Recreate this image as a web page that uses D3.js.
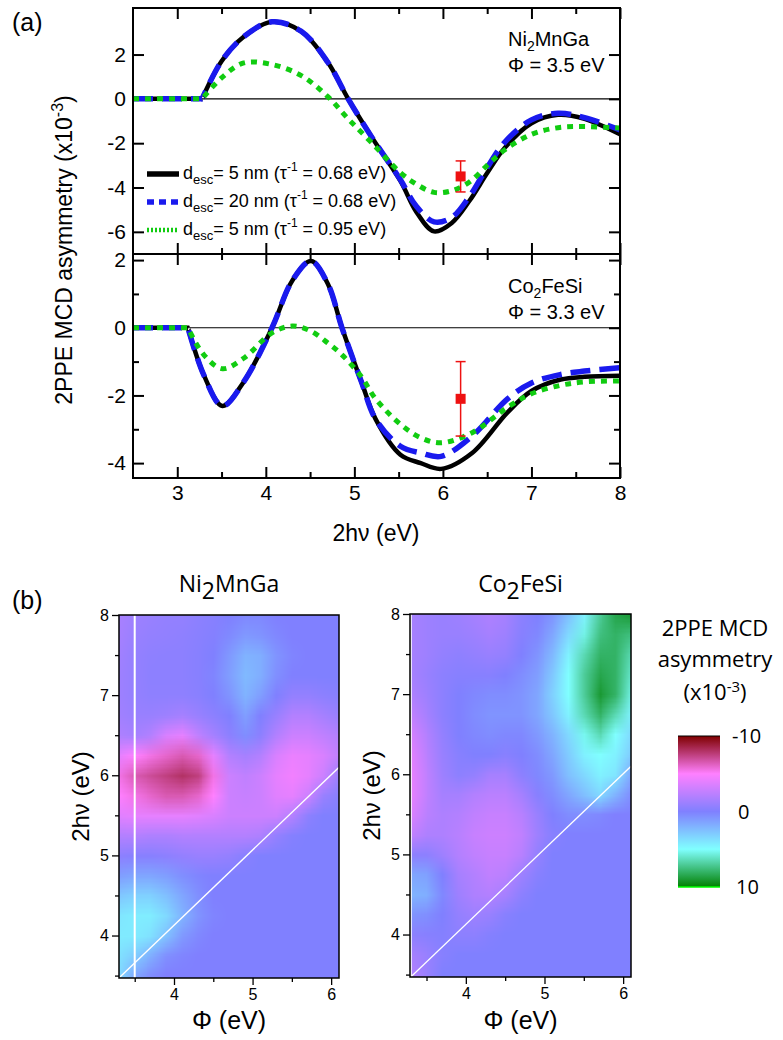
<!DOCTYPE html>
<meta charset="utf-8">
<style>
  body { margin: 0; background: #fff; }
  svg text { font-family: "Liberation Sans", Arial, Helvetica, sans-serif; fill: #000; }
  .ob { font-family: "Open Sans", sans-serif !important; }
</style>
<script src="https://d3js.org/d3.v7.min.js"></script>
<div id="chart"></div>
<script>

// ---- panel (a) data: 2PPE MCD asymmetry (x10^-3) vs 2hv (eV) ----
const hvNi = [2.5, 3.0, 3.28, 3.5, 3.75, 4.07, 4.4, 4.7, 4.93, 5.2, 5.52, 5.7, 5.9, 6.1, 6.3, 6.5, 6.7, 7.0, 7.3, 7.6, 8.0];
const niSolid  = [0, 0, 0, 1.7, 2.8, 3.48, 3.05, 1.65, 0, -1.75, -3.7, -5.1, -5.98, -5.6, -4.6, -3.35, -2.2, -1.1, -0.72, -0.9, -1.6];
const niDashed = [0, 0, 0, 1.7, 2.8, 3.48, 3.05, 1.65, 0, -1.75, -3.65, -4.85, -5.55, -5.35, -4.4, -3.1, -1.95, -0.95, -0.65, -0.85, -1.4];
const niDotted = [0, 0, 0, 0.95, 1.62, 1.55, 1.05, 0.1, -0.9, -2.0, -3.33, -3.85, -4.22, -4.15, -3.75, -3.0, -2.3, -1.6, -1.3, -1.25, -1.32];

const hvCfs = [2.5, 3.0, 3.12, 3.3, 3.51, 3.75, 4.07, 4.3, 4.51, 4.7, 4.86, 5.08, 5.24, 5.52, 5.75, 5.98, 6.33, 6.73, 7.0, 7.33, 7.6, 8.0];
const cfsSolid  = [0, 0, 0, -1.4, -2.31, -1.6, 0, 1.4, 1.97, 1.3, 0, -1.6, -2.7, -3.75, -4.0, -4.17, -3.7, -2.5, -1.87, -1.53, -1.45, -1.42];
const cfsDashed = [0, 0, 0, -1.4, -2.31, -1.6, 0, 1.4, 1.97, 1.3, 0, -1.6, -2.7, -3.5, -3.7, -3.8, -3.2, -2.1, -1.63, -1.38, -1.28, -1.18];
const cfsDotted = [0, 0, 0, -0.8, -1.21, -0.9, -0.15, 0.05, -0.1, -0.45, -0.8, -1.45, -2.1, -2.85, -3.25, -3.4, -3.1, -2.35, -1.95, -1.7, -1.6, -1.57];

const expHv = [6.2];
const niExp = [-3.5],  niExpErr = [0.7];
const cfsExp = [-2.1], cfsExpErr = [1.1];

// ---- panel (b) data: maps on a (phi, 2hv) grid ----
const phiGrid = [3.3, 3.5, 3.7, 3.9, 4.1, 4.3, 4.5, 4.7, 4.9, 5.1, 5.3, 5.5, 5.7, 5.9, 6.1];
const hvGrid = [8.0, 7.75, 7.5, 7.25, 7.0, 6.75, 6.5, 6.25, 6.0, 5.75, 5.5, 5.25, 5.0, 4.75, 4.5, 4.25, 4.0, 3.75, 3.5];

const niMap = [
  [-1.6,-1.2,-1.0,-0.8,-0.8,-0.5,-0.3, 0.0, 0.3, 0.3, 0.0, 0.0, 0.0, 0.0, 0.0],
  [-1.5,-1.0,-0.8,-0.7,-0.6,-0.4,-0.2, 0.4, 1.0, 0.8, 0.3, 0.0, 0.0, 0.0, 0.0],
  [-1.3,-0.8,-0.6,-0.5,-0.5,-0.3, 0.0, 1.0, 2.0, 1.8, 0.8, 0.2, 0.0, 0.0, 0.0],
  [-1.2,-0.8,-0.5,-0.5,-0.5,-0.3, 0.2, 1.2, 2.3, 1.8, 0.6, 0.0, 0.0, 0.0, 0.0],
  [-1.2,-0.8,-0.6,-0.6,-0.6,-0.4, 0.0, 0.8, 2.0, 1.2, 0.0,-0.8,-0.8,-0.5,-0.3],
  [-1.3,-1.0,-1.0,-1.2,-1.5,-1.0,-0.5, 0.0, 1.2, 0.0,-1.0,-2.0,-2.0,-1.5,-1.0],
  [-1.8,-1.5,-2.0,-3.5,-4.0,-2.5,-1.5,-0.5, 0.5,-0.5,-2.0,-3.0,-3.0,-2.5,-2.0],
  [-4.0,-5.0,-5.5,-6.0,-6.5,-6.0,-4.0,-2.0,-1.5,-2.0,-3.5,-4.2,-4.0,-3.5,-2.5],
  [-5.5,-6.5,-7.0,-7.5,-8.0,-7.5,-5.5,-3.0,-2.5,-3.0,-4.0,-4.5,-4.0,-3.0,-1.0],
  [-5.0,-5.5,-6.0,-6.5,-6.5,-6.0,-5.0,-3.0,-2.8,-3.0,-3.8,-4.0,-3.0,-1.0,-0.3],
  [-3.8,-4.0,-4.0,-4.0,-4.0,-3.8,-3.5,-3.0,-3.0,-3.0,-3.0,-2.0,-0.5, 0.0, 0.0],
  [-2.0,-2.0,-1.8,-1.8,-2.0,-2.0,-2.0,-2.0,-2.0,-1.8,-0.8,-0.2, 0.0, 0.0, 0.0],
  [-0.5,-0.3,-0.3,-0.5,-0.8,-1.0,-1.0,-0.8,-0.3, 0.0, 0.0, 0.0, 0.0, 0.0, 0.0],
  [ 1.2, 1.5, 1.5, 1.2, 0.6, 0.2, 0.0, 0.0, 0.0, 0.0, 0.0, 0.0, 0.0, 0.0, 0.0],
  [ 2.8, 3.2, 3.2, 2.5, 1.5, 0.6, 0.0, 0.0, 0.0, 0.0, 0.0, 0.0, 0.0, 0.0, 0.0],
  [ 4.0, 4.3, 4.3, 3.5, 2.0, 0.8, 0.2, 0.0, 0.0, 0.0, 0.0, 0.0, 0.0, 0.0, 0.0],
  [ 4.2, 4.2, 3.8, 2.5, 1.0, 0.3, 0.0, 0.0, 0.0, 0.0, 0.0, 0.0, 0.0, 0.0, 0.0],
  [ 3.8, 3.0, 1.8, 0.6, 0.2, 0.0, 0.0, 0.0, 0.0, 0.0, 0.0, 0.0, 0.0, 0.0, 0.0],
  [ 3.5, 1.5, 0.5, 0.0, 0.0, 0.0, 0.0, 0.0, 0.0, 0.0, 0.0, 0.0, 0.0, 0.0, 0.0]
];

const cfsMap = [
  [-1.5,-1.2,-1.0,-1.2,-1.5,-1.8,-1.5,-0.5, 0.0, 0.8, 2.5, 4.5, 7.0, 8.5, 9.0],
  [-1.5,-1.2,-1.0,-1.0,-1.2,-1.5,-1.2,-0.3, 0.3, 1.5, 3.5, 5.5, 7.5, 8.0, 7.5],
  [-1.5,-1.2,-0.8,-0.6,-0.8,-1.0,-0.8, 0.0, 0.8, 2.2, 4.5, 6.5, 8.0, 8.0, 6.5],
  [-1.5,-1.0,-0.5,-0.3,-0.3,-0.3, 0.0, 0.5, 1.2, 2.8, 5.0, 7.0, 8.5, 8.0, 6.0],
  [-1.8,-1.2,-0.5, 0.0, 0.3, 0.5, 0.5, 0.8, 1.5, 3.2, 5.0, 7.0, 9.0, 8.0, 5.5],
  [-2.5,-1.5,-0.5, 0.0, 0.5, 0.8, 0.8, 0.8, 1.5, 2.8, 4.5, 6.5, 8.0, 6.5, 4.5],
  [-3.3,-2.0,-0.8, 0.0, 0.3, 0.5, 0.3, 0.3, 1.0, 2.0, 3.5, 5.3, 6.5, 5.0, 3.5],
  [-3.8,-2.3,-1.0,-0.3, 0.0, 0.0,-0.3, 0.0, 0.5, 1.5, 3.0, 4.5, 5.0, 4.5, 3.0],
  [-4.0,-2.5,-1.2,-0.5,-0.8,-1.5,-1.5,-0.5, 0.3, 1.0, 2.5, 3.5, 4.5, 4.0, 1.5],
  [-4.0,-2.5,-1.5,-1.5,-2.0,-2.3,-2.3,-1.5,-0.3, 0.5, 1.5, 2.5, 3.5, 2.0, 0.5],
  [-3.5,-2.3,-1.8,-2.0,-2.5,-2.8,-2.8,-2.2,-1.0, 0.0, 0.5, 0.5, 0.3, 0.0, 0.0],
  [-2.5,-1.8,-1.8,-2.2,-2.8,-3.0,-3.0,-2.5,-1.2,-0.3, 0.0, 0.0, 0.0, 0.0, 0.0],
  [-0.5,-0.5,-1.2,-2.0,-2.5,-2.8,-2.8,-2.2,-0.8, 0.0, 0.0, 0.0, 0.0, 0.0, 0.0],
  [ 1.5, 1.3, 0.0,-1.5,-2.0,-2.5,-2.3,-1.2,-0.3, 0.0, 0.0, 0.0, 0.0, 0.0, 0.0],
  [ 2.0, 1.8, 0.3,-1.2,-1.8,-2.0,-1.5,-0.5, 0.0, 0.0, 0.0, 0.0, 0.0, 0.0, 0.0],
  [ 0.8, 0.6, 0.0,-0.8,-1.2,-1.0,-0.3, 0.0, 0.0, 0.0, 0.0, 0.0, 0.0, 0.0, 0.0],
  [-0.5,-0.3,-0.2,-0.5,-0.5,-0.2, 0.0, 0.0, 0.0, 0.0, 0.0, 0.0, 0.0, 0.0, 0.0],
  [-1.5,-1.0,-0.3, 0.0, 0.0, 0.0, 0.0, 0.0, 0.0, 0.0, 0.0, 0.0, 0.0, 0.0, 0.0],
  [-2.0,-1.0, 0.0, 0.0, 0.0, 0.0, 0.0, 0.0, 0.0, 0.0, 0.0, 0.0, 0.0, 0.0, 0.0]
];

const colorStops = [-10, -5, 0, 5, 10];
const colorList = ["#800000", "#ff80ff", "#8080ff", "#80ffff", "#008000"];
const barLabels = [-10, 0, 10];
const diagPhi = [3.3, 6.1], diagHv = [3.47, 6.1];

// ---------------------------------------------------------------
const svg = d3.select("#chart").append("svg").attr("width", 783).attr("height", 1040);

const mcdColor = d3.scaleLinear().domain(colorStops).range(colorList).clamp(true);

// panel (a) scales
const xA = d3.scaleLinear().domain([2.5, 8]).range([133, 620]);
const yNi = d3.scaleLinear().domain([-7, 4.1]).range([254, 8]);
const yCfs = d3.scaleLinear().domain([-4.44, 2.18]).range([478, 254]);

function inward(g, axis, scale, major, minor, labels) {
  g.call(axis(scale).tickValues(major).tickSize(-11).tickPadding(7)
      .tickFormat(labels ? (d => String(d)) : ""));
  g.select(".domain").remove();
  if (minor.length) {
    const m = g.append("g").call(axis(scale).tickValues(minor).tickSize(-6).tickFormat(""));
    m.select(".domain").remove();
  }
  g.selectAll("line").attr("stroke", "#000").attr("stroke-width", 2);
  g.selectAll("text").attr("font-size", 21);
}

// flat part straight, then a smooth curve from the threshold on
function curvePath(hv, vals, yS) {
  const pts = hv.map((h, i) => [xA(h), yS(vals[i])]);
  const k = vals.findIndex(v => v !== 0) - 1;
  const flat = d3.line().curve(d3.curveLinear)(pts.slice(0, k + 1));
  const rest = d3.line().curve(d3.curveCatmullRom.alpha(0.5))(pts.slice(k));
  return flat + rest.replace(/^M[^A-Z]*/, "L" + pts[k].join(","));
}

function panelA(yS, top, bottom, hv, solid, dashed, dotted, ex, exErr, yMajor, yMinor, id, lastPanel) {
  const g = svg.append("g");
  const xMaj = [3, 4, 5, 6, 7, 8], xMin = [3.5, 4.5, 5.5, 6.5, 7.5];
  inward(g.append("g").attr("transform", `translate(0,${top})`), d3.axisTop, xA, xMaj, xMin, false);
  inward(g.append("g").attr("transform", `translate(0,${bottom})`), d3.axisBottom, xA, xMaj, xMin, lastPanel);
  inward(g.append("g").attr("transform", "translate(133,0)"), d3.axisLeft, yS, yMajor, yMinor, true);
  inward(g.append("g").attr("transform", "translate(620,0)"), d3.axisRight, yS, yMajor, yMinor, false);

  g.append("clipPath").attr("id", id).append("rect")
    .attr("x", 133).attr("y", top).attr("width", 487).attr("height", bottom - top);
  const plot = g.append("g").attr("clip-path", `url(#${id})`);

  plot.append("line").attr("x1", 133).attr("x2", 620).attr("y1", yS(0)).attr("y2", yS(0))
    .attr("stroke", "#000").attr("stroke-width", 1.2);

  plot.append("path").attr("d", curvePath(hv, solid, yS)).attr("fill", "none").attr("stroke", "#000").attr("stroke-width", 4.5);
  plot.append("path").attr("d", curvePath(hv, dashed, yS)).attr("fill", "none").attr("stroke", "#1a1aee")
    .attr("stroke-width", 5.5).attr("stroke-dasharray", "20,9");
  plot.append("path").attr("d", curvePath(hv, dotted, yS)).attr("fill", "none").attr("stroke", "#11cc11")
    .attr("stroke-width", 5).attr("stroke-dasharray", "6,6");

  ex.forEach((v, i) => {
    const cx = xA(expHv[i]);
    plot.append("line").attr("x1", cx).attr("x2", cx).attr("y1", yS(v - exErr[i])).attr("y2", yS(v + exErr[i]))
      .attr("stroke", "#ee1111").attr("stroke-width", 1.5);
    [v - exErr[i], v + exErr[i]].forEach(e => plot.append("line").attr("x1", cx - 5).attr("x2", cx + 5)
      .attr("y1", yS(e)).attr("y2", yS(e)).attr("stroke", "#ee1111").attr("stroke-width", 1.5));
    plot.append("rect").attr("x", cx - 5).attr("y", yS(v) - 5).attr("width", 10).attr("height", 10).attr("fill", "#ee1111");
  });

  g.append("rect").attr("x", 133).attr("y", top).attr("width", 487).attr("height", bottom - top)
    .attr("fill", "none").attr("stroke", "#000").attr("stroke-width", 2);
  return g;
}

panelA(yNi, 8, 254, hvNi, niSolid, niDashed, niDotted, niExp, niExpErr, [-6, -4, -2, 0, 2], [], "clipNi", false);
panelA(yCfs, 254, 478, hvCfs, cfsSolid, cfsDashed, cfsDotted, cfsExp, cfsExpErr, [-4, -2, 0, 2], [-3, -1, 1], "clipCfs", true);

// sample labels
function sampleLabel(x, y, base, sub, rest) {
  const t = svg.append("text").attr("x", x).attr("y", y).attr("font-size", 20);
  t.append("tspan").text(base);
  t.append("tspan").attr("font-size", 14).attr("dy", 5).text(sub);
  t.append("tspan").attr("dy", -5).text(rest);
}
sampleLabel(508, 46, "Ni", "2", "MnGa");
svg.append("text").attr("x", 508).attr("y", 72).attr("font-size", 20).text("\u03A6 = 3.5 eV");
sampleLabel(508, 293, "Co", "2", "FeSi");
svg.append("text").attr("x", 508).attr("y", 319).attr("font-size", 20).text("\u03A6 = 3.3 eV");

// legend
const legendRows = [
  { y: 174, color: "#000", dash: null, width: 5.5, d: "5", tau: "0.68" },
  { y: 202, color: "#1a1aee", dash: "7,5", width: 5.5, d: "20", tau: "0.68" },
  { y: 230, color: "#11cc11", dash: "2,2", width: 4.5, d: "5", tau: "0.95" }
];
legendRows.forEach(r => {
  svg.append("line").attr("x1", 147).attr("x2", 179).attr("y1", r.y).attr("y2", r.y)
    .attr("stroke", r.color).attr("stroke-width", r.width).attr("stroke-dasharray", r.dash);
  const t = svg.append("text").attr("x", 183).attr("y", r.y + 5).attr("font-size", 18);
  t.append("tspan").text("d");
  t.append("tspan").attr("font-size", 13).attr("dy", 5).text("esc");
  t.append("tspan").attr("dy", -5).text(`= ${r.d} nm (\u03C4`);
  t.append("tspan").attr("font-size", 12).attr("dy", -8).text("-1");
  t.append("tspan").attr("dy", 8).text(` = ${r.tau} eV)`);
});

// axis titles panel (a)
svg.append("text").attr("x", 12).attr("y", 31).attr("font-size", 25).text("(a)");
const yt = svg.append("text").attr("transform", "translate(72,250) rotate(-90)")
  .attr("text-anchor", "middle").attr("font-size", 23);
yt.append("tspan").text("2PPE MCD asymmetry (x10");
yt.append("tspan").attr("font-size", 16).attr("dy", -9).text("-3");
yt.append("tspan").attr("dy", 9).text(")");
svg.append("text").attr("x", 376).attr("y", 541).attr("text-anchor", "middle").attr("font-size", 23).text("2h\u03BD (eV)");

// ---- panel (b) ----
svg.append("text").attr("x", 12).attr("y", 609).attr("font-size", 25).text("(b)");

function heatmap(values, left, right, top, bottom, phiMin, id, title, titleSub, titleRest, vline) {
  const x = d3.scaleLinear().domain([phiMin, 6.1]).range([left, right]);
  const y = d3.scaleLinear().domain([3.47, 8]).range([bottom, top]);
  const g = svg.append("g");

  const cols = phiGrid.length, rows = hvGrid.length;
  const cv = document.createElement("canvas");
  cv.width = cols; cv.height = rows;
  const ctx = cv.getContext("2d");
  const img = ctx.createImageData(cols, rows);
  values.forEach((row, r) => row.forEach((v, c) => {
    const col = d3.rgb(mcdColor(v));
    const k = 4 * (r * cols + c);
    img.data[k] = col.r; img.data[k + 1] = col.g; img.data[k + 2] = col.b; img.data[k + 3] = 255;
  }));
  ctx.putImageData(img, 0, 0);

  g.append("clipPath").attr("id", id).append("rect")
    .attr("x", left).attr("y", top).attr("width", right - left).attr("height", bottom - top);
  const dp = phiGrid[1] - phiGrid[0], dh = hvGrid[0] - hvGrid[1];
  const x0 = x(phiGrid[0] - dp / 2), x1 = x(phiGrid[cols - 1] + dp / 2);
  const y0 = y(hvGrid[0] + dh / 2), y1 = y(hvGrid[rows - 1] - dh / 2);
  const plot = g.append("g").attr("clip-path", `url(#${id})`);
  plot.append("image").attr("href", cv.toDataURL())
    .attr("x", x0).attr("y", y0).attr("width", x1 - x0).attr("height", y1 - y0)
    .attr("preserveAspectRatio", "none").style("image-rendering", "auto");

  plot.append("line").attr("x1", x(vline)).attr("x2", x(vline)).attr("y1", top).attr("y2", bottom)
    .attr("stroke", "#fff").attr("stroke-width", 2);
  plot.append("line").attr("x1", x(diagPhi[0])).attr("y1", y(diagHv[0]))
    .attr("x2", x(diagPhi[1])).attr("y2", y(diagHv[1])).attr("stroke", "#fff").attr("stroke-width", 1.3);

  g.append("rect").attr("x", left).attr("y", top).attr("width", right - left).attr("height", bottom - top)
    .attr("fill", "none").attr("stroke", "#000").attr("stroke-width", 1.5);

  const axL = g.append("g").attr("transform", `translate(${left},0)`)
    .call(d3.axisLeft(y).tickValues([4, 5, 6, 7, 8]).tickSize(7).tickPadding(3).tickFormat(d => String(d)));
  axL.append("g").call(d3.axisLeft(y).tickValues([3.5, 4.5, 5.5, 6.5, 7.5]).tickSize(4).tickFormat(""));
  const axB = g.append("g").attr("transform", `translate(0,${bottom})`)
    .call(d3.axisBottom(x).tickValues([4, 5, 6]).tickSize(7).tickPadding(4).tickFormat(d => String(d)));
  axB.append("g").call(d3.axisBottom(x).tickValues([3.5, 4.5, 5.5]).tickSize(4).tickFormat(""));
  g.selectAll(".domain").remove();
  g.selectAll(".tick line").attr("stroke", "#000").attr("stroke-width", 1.3);
  g.selectAll(".tick text").attr("font-size", 16);

  const cx = (left + right) / 2;
  const t = svg.append("text").attr("class", "ob").attr("x", cx).attr("y", 592)
    .attr("text-anchor", "middle").attr("font-size", 23);
  t.append("tspan").text(title);
  t.append("tspan").attr("dy", 7).text(titleSub);
  t.append("tspan").attr("dy", -7).text(titleRest);

  svg.append("text").attr("x", cx).attr("y", 1029).attr("text-anchor", "middle").attr("font-size", 25)
    .text("\u03A6 (eV)");
  svg.append("text").attr("transform", `translate(${left - 30},${(top + bottom) / 2}) rotate(-90)`)
    .attr("text-anchor", "middle").attr("font-size", 24).text("2h\u03BD (eV)");
}

heatmap(niMap, 119, 339, 615, 978, 3.3, "clipMapNi", "Ni", "2", "MnGa", 3.5);
heatmap(cfsMap, 410, 631, 614, 977, 3.29, "clipMapCfs", "Co", "2", "FeSi", 3.3);

// colour bar
const barX = 678, barW = 42;
const yBar = d3.scaleLinear().domain([-10, 10]).range([736, 887]);
const grad = svg.append("defs").append("linearGradient").attr("id", "mcdGrad")
  .attr("x1", 0).attr("x2", 0).attr("y1", 0).attr("y2", 1);
d3.range(-10, 10.01, 1).forEach(v => grad.append("stop")
  .attr("offset", (v + 10) / 20).attr("stop-color", mcdColor(v)));
svg.append("rect").attr("x", barX).attr("y", yBar(-10)).attr("width", barW).attr("height", yBar(10) - yBar(-10))
  .attr("fill", "url(#mcdGrad)");
svg.append("line").attr("x1", barX).attr("x2", barX + barW).attr("y1", yBar(-10)).attr("y2", yBar(-10))
  .attr("stroke", "#000").attr("stroke-width", 1.2);
svg.append("line").attr("x1", barX).attr("x2", barX + barW).attr("y1", yBar(10)).attr("y2", yBar(10))
  .attr("stroke", "#00ff00").attr("stroke-width", 1.5);
barLabels.forEach(v => svg.append("text").attr("class", "ob").attr("x", v < 0 ? 732 : (v === 0 ? 738 : 736))
  .attr("y", yBar(v)).attr("dy", "0.35em").attr("font-size", 20).text(String(v)));

const cbTitle = ["2PPE MCD", "asymmetry"];
cbTitle.forEach((s, i) => svg.append("text").attr("class", "ob").attr("x", 715).attr("y", 636 + i * 31)
  .attr("text-anchor", "middle").attr("font-size", 22).text(s));
const cbu = svg.append("text").attr("class", "ob").attr("x", 715).attr("y", 700)
  .attr("text-anchor", "middle").attr("font-size", 22);
cbu.append("tspan").text("(x10");
cbu.append("tspan").attr("font-size", 15).attr("dy", -8).text("-3");
cbu.append("tspan").attr("dy", 8).text(")");

</script>
